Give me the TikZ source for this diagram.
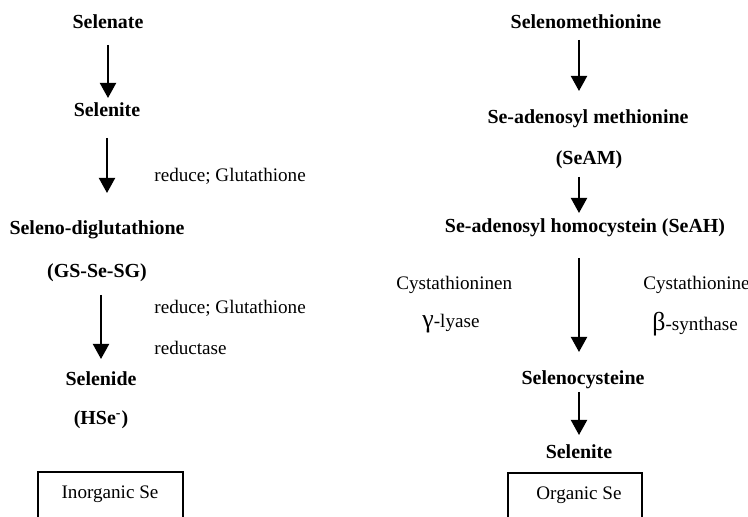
\documentclass[tikz,border=0pt]{standalone}
\usepackage{fontspec}
\setmainfont{Liberation Serif}
\usetikzlibrary{arrows.meta}
\newcommand{\grk}[1]{{\fontsize{13}{14}\selectfont #1}}

\begin{document}
\begin{tikzpicture}[x=0.5bp, y=-0.5bp, every node/.style={inner sep=0pt, font=\fontsize{9.6}{11}\selectfont}, cmpd/.style={font=\fontsize{10}{12}\selectfont\bfseries}, note/.style={anchor=west}, arrow/.style={line width=1bp, -{Triangle[width=8bp, length=7.5bp]}}, frame/.style={line width=0.6bp}]
\useasboundingbox (0,0) rectangle (748,517);

% inorganic route
\node[cmpd] (selenate) at (108,22) {Selenate};
\node[cmpd] (selenite) at (107,110) {Selenite};
\node[note] (red1) at (154,176) {reduce; Glutathione};
\node[cmpd] (seleno) at (97,230) {Seleno-diglutathione};
\node[cmpd] (gs) at (97,273) {(GS-Se-SG)};
\node[note] (red2) at (154,308) {reduce; Glutathione};
\node[note] (redt) at (154,348) {reductase};
\node[cmpd] (selenide) at (101,379) {Selenide};
\node[cmpd] (hse) at (101,420) {(HSe\textsuperscript{-})};
\node (inorg) at (110,494) {Inorganic Se};
\draw[frame] (38,472) rectangle (183,545);

% organic route
\node[cmpd] (semet) at (586,22) {Selenomethionine};
\node[cmpd] (seam) at (588,119) {Se-adenosyl methionine};
\node[cmpd] (seamab) at (589,160) {(SeAM)};
\node[cmpd] (seah) at (585,228) {Se-adenosyl homocystein (SeAH)};
\node[note] (cgl1) at (396,285) {Cystathioninen};
\node[note] (cgl2) at (422,324) {\grk{γ}-lyase};
\node[note] (cbs1) at (643,285) {Cystathionine};
\node[note] (cbs2) at (652,324) {\grk{β}-synthase};
\node[cmpd] (secys) at (583,380) {Selenocysteine};
\node[cmpd] (selenite2) at (579,452) {Selenite};
\node (org) at (579,495) {Organic Se};
\draw[frame] (508,473) rectangle (642,545);

\draw[arrow, shorten <=11.5bp, shorten >=6bp] (selenate.center) -- (selenate.center |- selenite.center);
\draw[arrow, shorten <=14bp, shorten >=18.5bp] (selenite.center) -- (selenite.center |- seleno.center);
\draw[arrow, shorten <=11bp, shorten >=10bp] (selenide.center |- gs.center) -- (selenide.center);

\draw[arrow, shorten <=9bp, shorten >=14bp] (semet.center -| selenite2.center) -- (seam.center -| selenite2.center);
\draw[arrow, shorten <=8.5bp, shorten >=7.5bp] (seamab.center -| selenite2.center) -- (seah.center -| selenite2.center);
\draw[arrow, shorten <=15bp, shorten >=14bp] (seah.center -| selenite2.center) -- (secys.center -| selenite2.center);
\draw[arrow, shorten <=6bp, shorten >=8.5bp] (secys.center -| selenite2.center) -- (selenite2.center);
\end{tikzpicture}
\end{document}
